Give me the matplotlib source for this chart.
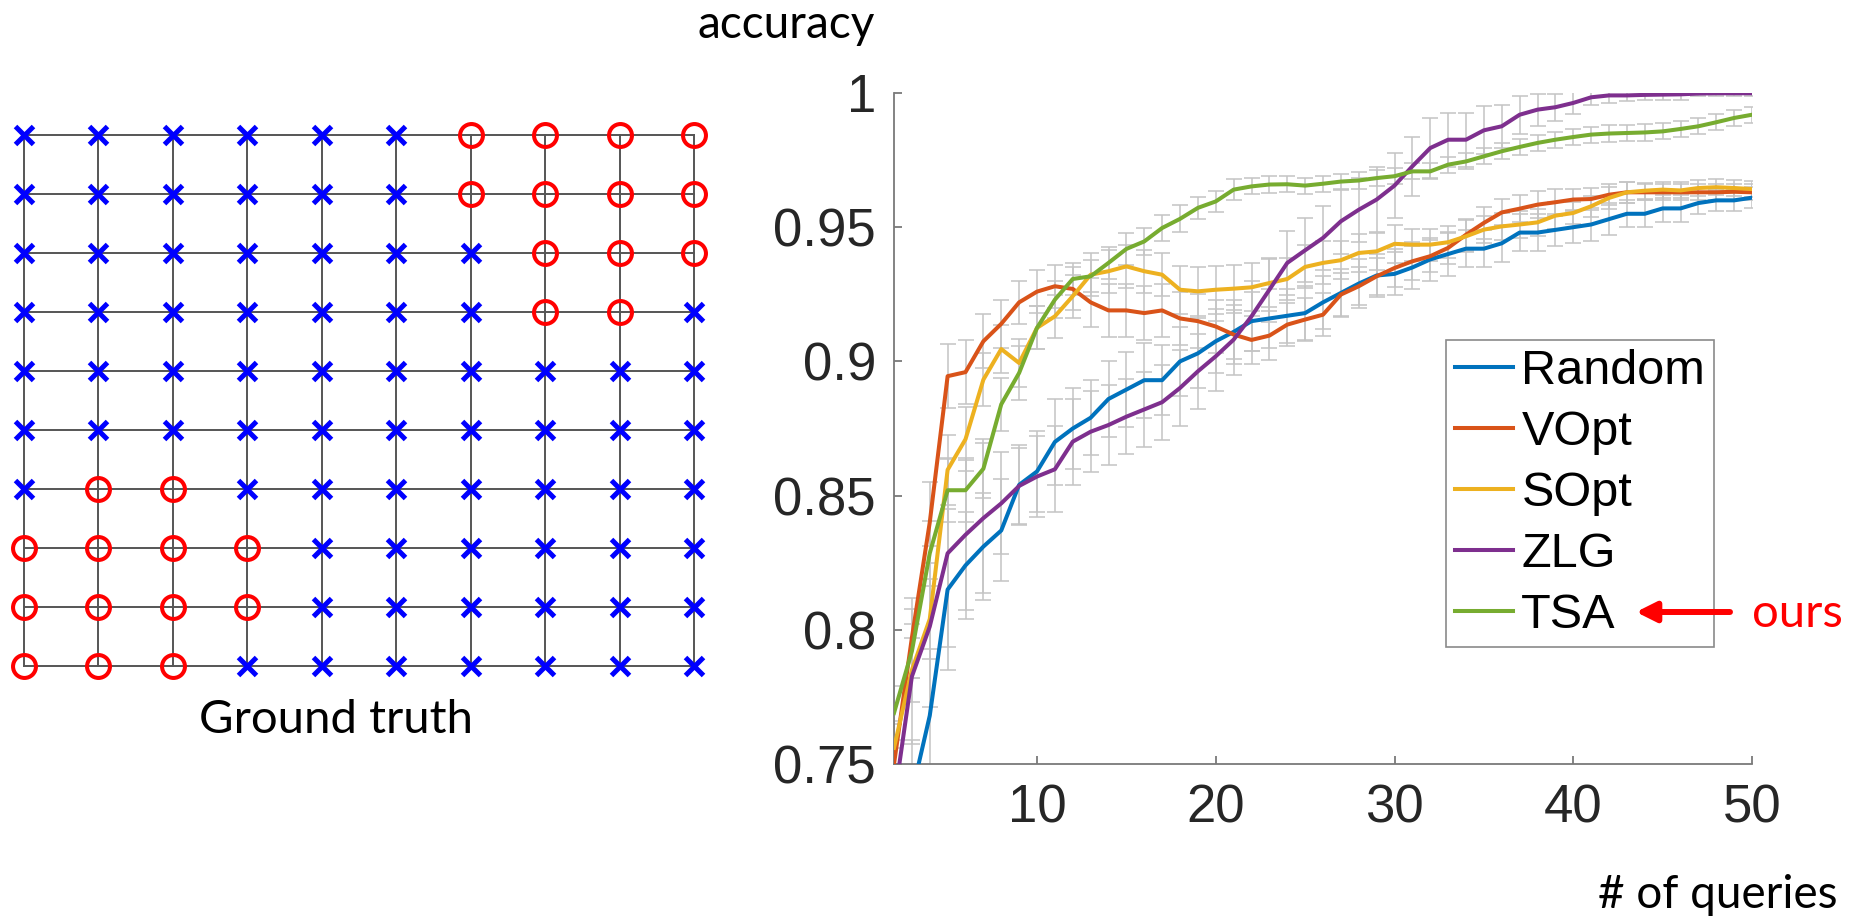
import matplotlib
matplotlib.use("Agg")
import matplotlib.pyplot as plt
import numpy as np

# ---------------- data ----------------
grid_rows = [
    "xxxxxxoooo",
    "xxxxxxoooo",
    "xxxxxxxooo",
    "xxxxxxxoox",
    "xxxxxxxxxx",
    "xxxxxxxxxx",
    "xooxxxxxxx",
    "ooooxxxxxx",
    "ooooxxxxxx",
    "oooxxxxxxx",
]

queries = list(range(2, 51))

random_acc = [0.720, 0.739, 0.768, 0.815, 0.824, 0.831, 0.837,
              0.854, 0.859, 0.870, 0.875, 0.879, 0.886, 0.8895,
              0.893, 0.893, 0.900, 0.903, 0.9075, 0.911, 0.915,
              0.916, 0.917, 0.918, 0.922, 0.9255, 0.929, 0.932,
              0.9326, 0.935, 0.938, 0.940, 0.942, 0.942, 0.944,
              0.948, 0.948, 0.949, 0.950, 0.951, 0.953, 0.955,
              0.955, 0.957, 0.957, 0.959, 0.960, 0.960, 0.961]
vopt_acc = [0.750, 0.797, 0.840, 0.8945, 0.896, 0.9075, 0.914,
            0.922, 0.926, 0.928, 0.927, 0.922, 0.919, 0.919,
            0.918, 0.919, 0.916, 0.915, 0.913, 0.910, 0.908,
            0.9096, 0.9137, 0.9156, 0.9174, 0.9249, 0.928, 0.9317,
            0.9348, 0.9373, 0.9392, 0.9423, 0.9472, 0.9516, 0.9555,
            0.9569, 0.9584, 0.9593, 0.9603, 0.9605, 0.9621, 0.963,
            0.963, 0.963, 0.963, 0.963, 0.963, 0.9632, 0.963]
sopt_acc = [0.756, 0.785, 0.804, 0.8596, 0.871, 0.8932, 0.9046,
            0.8994, 0.9125, 0.9168, 0.9243, 0.9323, 0.9336, 0.9354,
            0.9336, 0.9323, 0.9267, 0.9261, 0.9267, 0.9271, 0.9276,
            0.9292, 0.9307, 0.9352, 0.9367, 0.9377, 0.9404, 0.941,
            0.9438, 0.9435, 0.9435, 0.9444, 0.9466, 0.9491, 0.9503,
            0.951, 0.9518, 0.9543, 0.9553, 0.9578, 0.9609, 0.963,
            0.9636, 0.964, 0.9637, 0.9646, 0.9649, 0.9646, 0.9642]
zlg_acc = [0.736, 0.7826, 0.8012, 0.8285, 0.8354, 0.8416, 0.8471,
           0.8536, 0.8571, 0.8598, 0.8701, 0.8738, 0.8763, 0.8794,
           0.8821, 0.8848, 0.8901, 0.8963, 0.9019, 0.9081, 0.9168,
           0.9267, 0.9367, 0.9414, 0.946, 0.9522, 0.9565, 0.9603,
           0.9655, 0.9727, 0.9795, 0.9826, 0.9826, 0.9861, 0.9876,
           0.9919, 0.9938, 0.9947, 0.9963, 0.9984, 0.9991, 0.9991,
           0.9993, 0.9994, 0.9995, 0.9998, 0.9999, 0.9999, 0.9999]
tsa_acc = [0.769, 0.792, 0.8285, 0.852, 0.852, 0.860, 0.884,
           0.8957, 0.9125, 0.923, 0.9307, 0.9317, 0.9367, 0.9419,
           0.9447, 0.9497, 0.9531, 0.9572, 0.9596, 0.964, 0.9652,
           0.9659, 0.966, 0.9655, 0.9662, 0.967, 0.9674, 0.9683,
           0.969, 0.9708, 0.9708, 0.9733, 0.9745, 0.9764, 0.9783,
           0.9799, 0.9814, 0.9826, 0.9836, 0.9845, 0.9849, 0.9851,
           0.9853, 0.9857, 0.9866, 0.9876, 0.9891, 0.9907, 0.9919]

random_err = [0.020, 0.020, 0.025, 0.030, 0.020, 0.020, 0.019,
              0.015, 0.015, 0.016, 0.015, 0.014, 0.014, 0.014,
              0.014, 0.013, 0.013, 0.013, 0.012, 0.012, 0.011,
              0.011, 0.010, 0.010, 0.010, 0.009, 0.009, 0.008,
              0.008, 0.008, 0.008, 0.008, 0.007, 0.007, 0.007,
              0.007, 0.007, 0.006, 0.006, 0.006, 0.006, 0.005,
              0.005, 0.005, 0.005, 0.004, 0.004, 0.004, 0.004]
vopt_err = [0.015, 0.015, 0.015, 0.012, 0.012, 0.010, 0.009,
            0.008, 0.008, 0.008, 0.008, 0.009, 0.010, 0.010,
            0.010, 0.010, 0.010, 0.010, 0.010, 0.009, 0.009,
            0.009, 0.008, 0.008, 0.008, 0.008, 0.007, 0.007,
            0.007, 0.007, 0.006, 0.006, 0.006, 0.006, 0.005,
            0.005, 0.005, 0.005, 0.004, 0.004, 0.004, 0.004,
            0.003, 0.003, 0.003, 0.003, 0.003, 0.003, 0.003]
sopt_err = [0.010, 0.012, 0.015, 0.013, 0.012, 0.010, 0.009,
            0.009, 0.008, 0.008, 0.008, 0.008, 0.008, 0.008,
            0.008, 0.008, 0.009, 0.009, 0.009, 0.009, 0.009,
            0.009, 0.008, 0.008, 0.008, 0.007, 0.007, 0.007,
            0.007, 0.006, 0.006, 0.006, 0.006, 0.005, 0.005,
            0.005, 0.005, 0.005, 0.004, 0.004, 0.004, 0.004,
            0.003, 0.003, 0.003, 0.003, 0.003, 0.003, 0.003]
zlg_err = [0.020, 0.025, 0.030, 0.035, 0.028, 0.028, 0.019,
           0.014, 0.015, 0.016, 0.016, 0.015, 0.015, 0.014,
           0.014, 0.014, 0.014, 0.014, 0.013, 0.013, 0.013,
           0.012, 0.012, 0.012, 0.012, 0.012, 0.012, 0.012,
           0.012, 0.011, 0.011, 0.010, 0.010, 0.009, 0.008,
           0.007, 0.006, 0.005, 0.004, 0.003, 0.003, 0.002,
           0.002, 0.002, 0.002, 0.001, 0.001, 0.001, 0.001]
tsa_err = [0.010, 0.010, 0.012, 0.012, 0.012, 0.011, 0.010,
           0.010, 0.008, 0.007, 0.006, 0.006, 0.006, 0.006,
           0.005, 0.005, 0.005, 0.004, 0.004, 0.004, 0.003,
           0.003, 0.003, 0.003, 0.003, 0.003, 0.003, 0.003,
           0.003, 0.003, 0.003, 0.003, 0.003, 0.003, 0.003,
           0.003, 0.003, 0.003, 0.003, 0.003, 0.003, 0.003,
           0.003, 0.003, 0.003, 0.003, 0.003, 0.003, 0.003]

method_names = ["Random", "VOpt", "SOpt", "ZLG", "TSA"]
method_colors = ["#0072BD", "#D95319", "#EDB120", "#7E2F8E", "#77AC30"]

x_ticks = [10, 20, 30, 40, 50]
y_ticks = [0.75, 0.8, 0.85, 0.9, 0.95, 1.0]
y_tick_labels = ["0.75", "0.8", "0.85", "0.9", "0.95", "1"]

# ---------------- figure ----------------
W, H = 1860, 919
fig = plt.figure(figsize=(W / 100, H / 100), dpi=100)


def fx(px):
    return px / W


def fy(py):
    return 1 - py / H


# ---- left: ground-truth grid ----
gx0, gx1, gy0, gy1 = 24, 694, 135, 666
axg = fig.add_axes([fx(gx0), fy(gy1), fx(gx1) - fx(gx0), fy(gy0) - fy(gy1)])
axg.set_xlim(1, 10)
axg.set_ylim(1, 10)
axg.axis("off")
n = len(grid_rows)
for i in range(1, n + 1):
    axg.plot([1, n], [i, i], color="#555555", lw=1.4, zorder=1, clip_on=False)
    axg.plot([i, i], [1, n], color="#555555", lw=1.4, zorder=1, clip_on=False)
xs_x, ys_x, xs_o, ys_o = [], [], [], []
for r, row in enumerate(grid_rows):
    for c, ch in enumerate(row):
        if ch == "x":
            xs_x.append(c + 1); ys_x.append(n - r)
        else:
            xs_o.append(c + 1); ys_o.append(n - r)
axg.plot(xs_x, ys_x, "x", color="#0000FF", ms=13, mew=3.6, zorder=3, clip_on=False)
axg.plot(xs_o, ys_o, "o", color="#FF0000", mfc="none", ms=16.5, mew=2.9,
         zorder=3, clip_on=False)

fig.text(fx(336), fy(733), "Ground truth", ha="center", va="baseline",
         family="Lato", fontsize=34, color="black")

# ---- right: accuracy plot ----
ax = fig.add_axes([fx(894), fy(764), fx(1752) - fx(894), fy(93) - fy(764)])
series = [random_acc, vopt_acc, sopt_acc, zlg_acc, tsa_acc]
errs = [random_err, vopt_err, sopt_err, zlg_err, tsa_err]
for acc, err in zip(series, errs):
    ax.errorbar(queries, acc, yerr=err, fmt="none", ecolor="#c4c4c4",
                elinewidth=1.1, capsize=6, capthick=1.1, zorder=1)
for acc, name, col in zip(series, method_names, method_colors):
    ax.plot(queries, acc, color=col, lw=2.9, label=name, zorder=3)

ax.set_xlim(2, 50)
ax.set_ylim(0.75, 1.0)
ax.set_xticks(x_ticks)
ax.set_xticklabels([str(t) for t in x_ticks])
ax.set_yticks(y_ticks)
ax.set_yticklabels(y_tick_labels)
for s in ["top", "right"]:
    ax.spines[s].set_visible(False)
for s in ["left", "bottom"]:
    ax.spines[s].set_color("#7a7a7a")
    ax.spines[s].set_linewidth(1.3)
ax.tick_params(axis="both", direction="in", length=5.8, width=1.3,
               color="#7a7a7a", labelcolor="#262626", labelsize=38)
ax.tick_params(axis="y", pad=13)
ax.tick_params(axis="x", pad=14)
for lab in ax.get_xticklabels() + ax.get_yticklabels():
    lab.set_family("Liberation Sans")

leg = ax.legend(loc="upper left", bbox_to_anchor=(fx(1446), fy(340)),
                bbox_transform=fig.transFigure, borderaxespad=0,
                prop={"family": "Liberation Sans", "size": 35},
                frameon=True, fancybox=False, framealpha=1,
                borderpad=0.18, labelspacing=0.33, handlelength=1.2,
                handletextpad=0.17)
leg.get_frame().set_edgecolor("#8a8a8a")
leg.get_frame().set_linewidth(1.2)
for t in leg.get_texts():
    t.set_color("black")

# arrow + "ours" (drawn above the legend)
arrow = ax.annotate("", xy=(1636, H - 612), xycoords="figure pixels",
                    xytext=(1730, H - 612), textcoords="figure pixels",
                    arrowprops=dict(arrowstyle="-|>", color="#FF0000", lw=4.3,
                                    mutation_scale=30, shrinkA=0, shrinkB=0),
                    annotation_clip=False)
arrow.set_zorder(20)
arrow.arrow_patch.set_zorder(20)
fig.text(fx(1752), fy(627), "ours", ha="left", va="baseline",
         family="Lato", fontsize=34, color="#FF0000")

fig.text(fx(697), fy(38), "accuracy", ha="left", va="baseline",
         family="Lato", fontsize=33, color="black")
fig.text(fx(1837), fy(908), "# of queries", ha="right", va="baseline",
         family="Lato", fontsize=33, color="black")

fig.savefig("out.png", dpi=100)
